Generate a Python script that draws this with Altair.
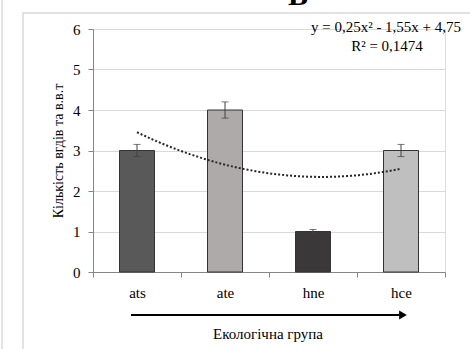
import altair as alt
import pandas as pd

groups = ["ats", "ate", "hne", "hce"]
values = [3.0, 4.0, 1.0, 3.0]
errors = [0.15, 0.2, 0.05, 0.15]
colors = ["#595959", "#AEAAAA", "#3A3838", "#BFBFBF"]
positions = [1, 2, 3, 4]

FONT = "Liberation Serif"

df = pd.DataFrame({
    "group": groups,
    "value": values,
    "lo": [v - e for v, e in zip(values, errors)],
    "hi": [v + e for v, e in zip(values, errors)],
    "color": colors,
    "idx": positions,
})

base = alt.Chart(df)
xenc = alt.X("group:N", sort=groups,
             scale=alt.Scale(paddingInner=0, paddingOuter=0),
             axis=alt.Axis(title=None, labelAngle=0, labelFont=FONT, labelFontSize=15,
                           labelColor="#000000", labelPadding=8, tickBand="extent",
                           tickSize=5, tickColor="#868686", domainColor="#868686",
                           grid=False))
yscale = alt.Scale(domain=[0, 6], nice=False)

bars = base.mark_bar(width=35, stroke="#333333", strokeWidth=1).encode(
    x=xenc,
    y=alt.Y("value:Q", scale=yscale,
            axis=alt.Axis(values=[0, 1, 2, 3, 4, 5, 6], title="Кількість вгдів та в.в.т",
                          titleFont=FONT, titleFontSize=14, titleFontWeight="normal",
                          titleColor="#000000", titleX=-35, titleY=121.5, titleAngle=270,
                          titleAlign="center", titleBaseline="middle",
                          labelFont=FONT, labelFontSize=15, labelColor="#000000",
                          labelPadding=8, tickSize=5, tickColor="#868686",
                          domainColor="#868686", gridColor="#D9D9D9")),
    color=alt.Color("color:N", scale=None),
)

err = base.mark_rule(color="#404040", strokeWidth=1).encode(
    x=alt.X("group:N", sort=groups), y=alt.Y("lo:Q", scale=yscale), y2="hi:Q")
cap_lo = base.mark_tick(color="#404040", thickness=1, size=7).encode(
    x=alt.X("group:N", sort=groups), y=alt.Y("lo:Q", scale=yscale))
cap_hi = base.mark_tick(color="#404040", thickness=1, size=7).encode(
    x=alt.X("group:N", sort=groups), y=alt.Y("hi:Q", scale=yscale))

main = alt.layer(bars, err, cap_lo, cap_hi)

trend = base.transform_regression("idx", "value", method="poly", order=2).mark_line(
    color="#262626", strokeWidth=2, strokeDash=[2, 2]).encode(
    x=alt.X("idx:Q", scale=alt.Scale(domain=[0.5, 4.5], nice=False, zero=False), axis=None),
    y=alt.Y("value:Q", scale=yscale),
)

one = pd.DataFrame({"k": [0]})

def label(text, x, y, size=14, weight="normal", align="center", baseline="middle", angle=0):
    return alt.Chart(one).mark_text(text=text, font=FONT, fontSize=size, fontWeight=weight,
                                    align=align, baseline=baseline, color="#000000",
                                    angle=angle).encode(x=alt.value(x), y=alt.value(y))

ox, oy = 93, 29
eq1 = label("y = 0,25x² - 1,55x + 4,75", 386 - ox, 27 - oy, size=15)
eq2 = label("R² = 0,1474", 387 - ox, 46 - oy, size=15)
titleB = label("B", 298 - ox, 5 - oy, size=30, weight="bold", baseline="alphabetic")
xtitle = label("Екологічна група", 268 - ox, 334 - oy, size=15)

arrow = alt.Chart(one).mark_rule(color="#000000", strokeWidth=2).encode(
    x=alt.value(131 - ox), x2=alt.value(402 - ox), y=alt.value(315 - oy))
head = alt.Chart(one).mark_point(shape="triangle-right", filled=True, color="#000000",
                                 size=80, opacity=1).encode(
    x=alt.value(403 - ox), y=alt.value(315 - oy))

frame = alt.Chart(one).mark_rect(fill=None, stroke="#D9D9D9", strokeWidth=1.5).encode(
    x=alt.value(23 - ox), x2=alt.value(520 - ox), y=alt.value(13 - oy), y2=alt.value(400 - oy))
frame2 = alt.Chart(one).mark_rule(color="#D9D9D9", strokeWidth=1.5).encode(
    x=alt.value(2 - ox), y=alt.value(-50), y2=alt.value(400))

chart = alt.layer(frame, frame2, main, trend, eq1, eq2, titleB,
                  xtitle, arrow, head).resolve_scale(x="independent").properties(
    width=352, height=243,
    padding={"left": ox, "top": oy, "right": 470 - ox - 352, "bottom": 349 - oy - 243},
    autosize=alt.AutoSizeParams(type="none"),
).configure_view(stroke=None).configure(background="#FFFFFF", font=FONT)

chart.save("out.html", embed_options={"renderer": "svg", "actions": False})
